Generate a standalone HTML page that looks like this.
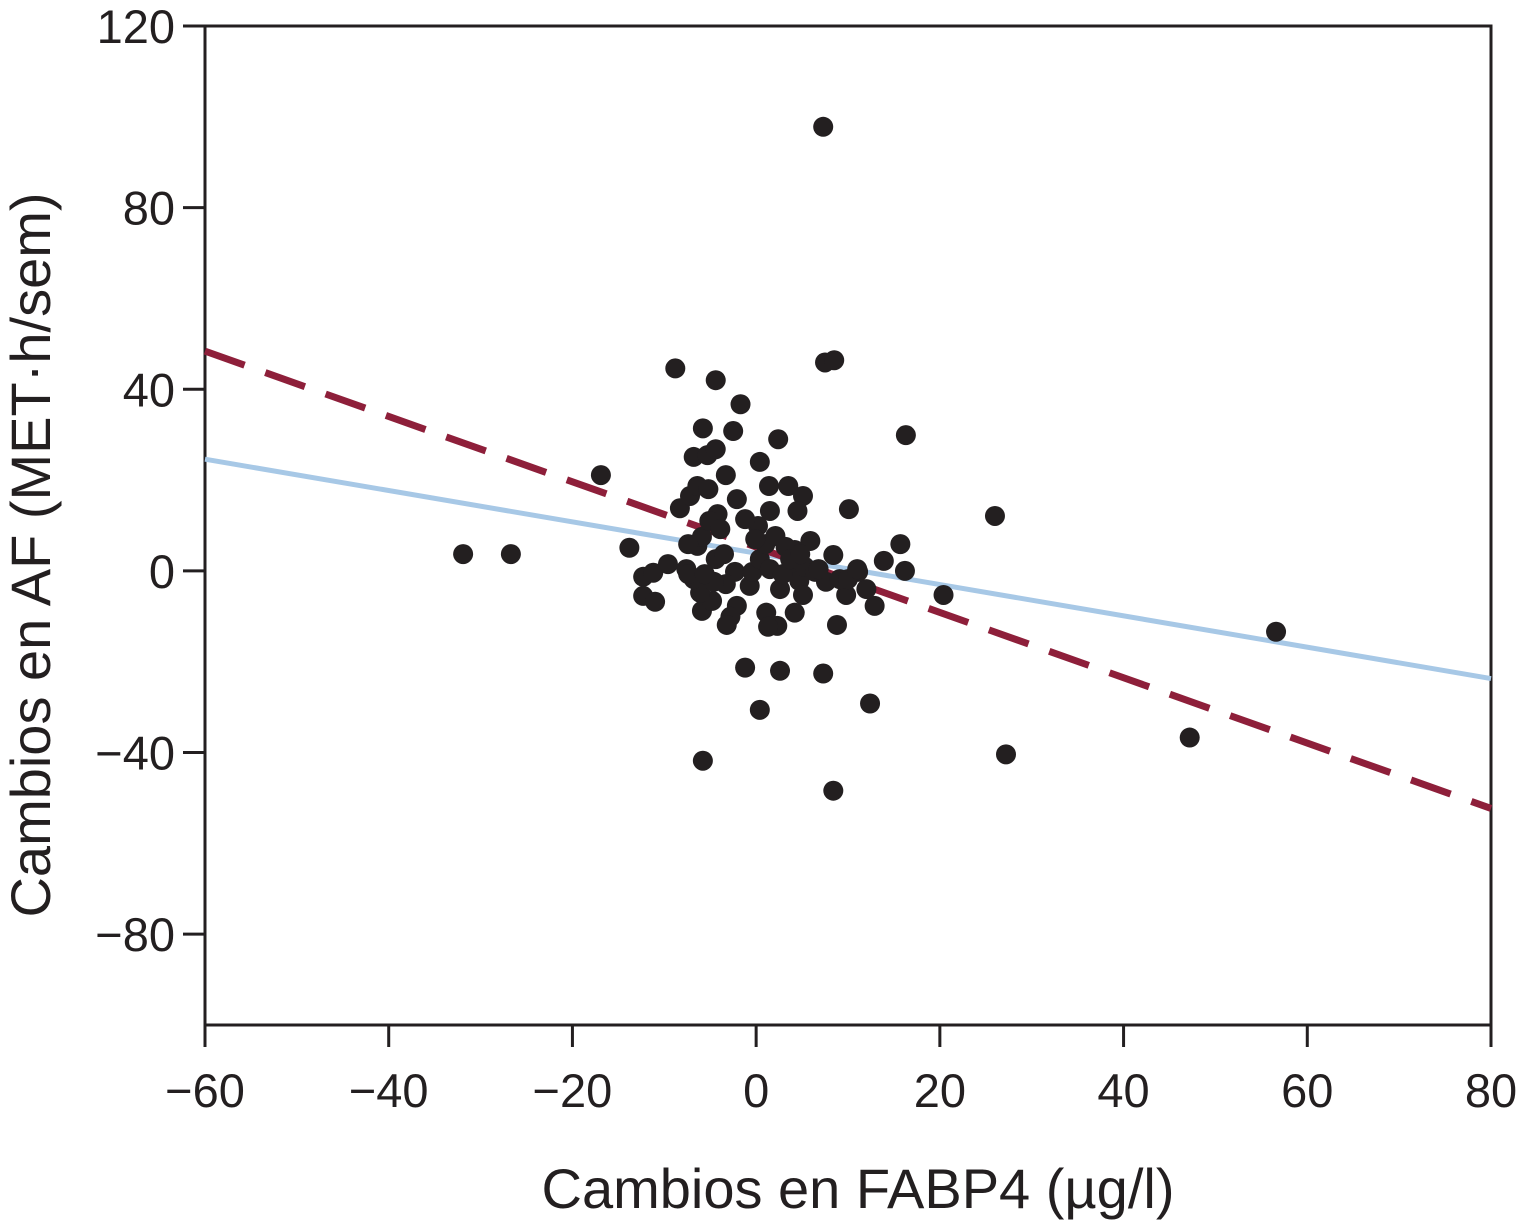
<!DOCTYPE html>
<html><head><meta charset="utf-8"><style>
html,body{margin:0;padding:0;background:#fff;}
svg{display:block;font-family:"Liberation Sans",Arial,sans-serif;}
</style></head><body>
<svg id="chart" width="1516" height="1220" viewBox="0 0 1516 1220">
<g id="grid"></g>
<g id="lines"></g>
<g id="pts"></g>
<text x="858" y="1208" font-size="56" text-anchor="middle" fill="#231f20">Cambios en FABP4 (µg/l)</text>
<text transform="translate(50,555) rotate(-90)" font-size="56" text-anchor="middle" fill="#231f20">Cambios en AF (MET·h/sem)</text>
</svg>
<script>
const xTicks=[-60,-40,-20,0,20,40,60,80];
const yTicks=[120,80,40,0,-40,-80];
const xVals=[-31.9,-26.7,-16.9,-8.8,-4.4,-1.7,-13.8,-12.3,-11.2,-12.3,-11.0,-9.6,-8.3,-7.6,-7.2,-6.8,-5.8,-5.3,-4.4,-6.4,-5.2,-4.2,-3.3,-2.5,-2.1,0.4,2.4,1.4,3.5,5.1,4.5,1.5,0.2,10.1,16.3,26.0,7.3,7.5,8.5,-5.8,-1.2,0.4,2.6,7.3,12.4,8.4,27.2,47.2,56.6,20.4,15.7,16.2,13.9,12.9,12.0,11.1,9.8,8.8,8.4,5.9,4.2,3.7,4.7,2.6,1.1,2.3,1.3,4.2,5.1,-0.7,-2.1,-2.8,-3.2,-5.9,-4.8,-6.1,-6.8,-7.4,-6.4,-5.9,-4.4,-3.5,-2.3,-0.4,0.4,1.0,2.1,3.2,1.5,2.9,5.3,6.4,7.6,9.1,-3.3,-4.6,-5.6,-5.1,-3.9,-7.4,-1.2,-0.1,3.7,4.8,6.8,10.0,11.0];
const yVals=[3.7,3.7,21.1,44.6,42.0,36.7,5.1,-1.3,-0.4,-5.5,-6.8,1.5,13.8,0.4,16.5,25.1,31.4,25.5,26.8,18.7,18.0,12.5,21.1,30.8,15.8,24.0,29.0,18.7,18.7,16.5,13.2,13.2,9.9,13.6,29.9,12.1,97.8,45.9,46.4,-41.8,-21.3,-30.6,-22.0,-22.6,-29.2,-48.4,-40.4,-36.7,-13.4,-5.3,5.9,0,2.2,-7.7,-4.0,-0.2,-5.3,-11.9,3.5,6.6,4.6,0.4,-2.2,-4.0,-9.2,-12.1,-12.3,-9.2,-5.3,-3.3,-7.7,-10.1,-11.9,-8.8,-6.6,-4.8,-1.8,-0.7,5.5,7.5,2.6,3.7,-0.2,-0.2,2.6,5.9,7.7,5.3,0.4,-0.7,0.9,-0.2,-2.4,-1.8,-2.9,-2.4,-0.7,11.0,9.2,5.9,11.4,7.0,2.6,3.7,0.4,-1.8,0.4];
const lineX=[-60,80];
const blueY=[24.6,-23.7];
const redY=[48.4,-52.3];
const NS='http://www.w3.org/2000/svg';
const X0=205,X1=1491,Y0=1025,Y1=26;
const sx=v=>X0+(v+60)/140*(X1-X0);
const sy=v=>Y0-(v+100)/220*(Y0-Y1);
function mk(tag,attrs,parent){const e=document.createElementNS(NS,tag);for(const k in attrs)e.setAttribute(k,attrs[k]);parent.appendChild(e);return e;}
const g=document.getElementById('grid');
const frame=mk('rect',{x:X0,y:Y1,width:X1-X0,height:Y0-Y1,fill:'none',stroke:'#231f20','stroke-width':3},g);


xTicks.forEach(t=>{
 const l=mk('line',{x1:sx(t),x2:sx(t),y1:Y0,y2:Y0+22,stroke:'#231f20','stroke-width':3},g);
 
 
 const tx=mk('text',{x:sx(t),y:1107,'font-size':47,'text-anchor':'middle',fill:'#231f20'},g);
 tx.textContent=(t<0?'\u2212'+(-t):t);
 
 
});
yTicks.forEach(t=>{
 const l=mk('line',{x1:X0-22,x2:X0,y1:sy(t),y2:sy(t),stroke:'#231f20','stroke-width':3},g);
 
 
 const tx=mk('text',{x:175,y:sy(t)+17,'font-size':47,'text-anchor':'end',fill:'#231f20'},g);
 tx.textContent=(t<0?'\u2212'+(-t):t);
 
 
});
const lg=document.getElementById('lines');
const bl=mk('line',{x1:sx(lineX[0]),y1:sy(blueY[0]),x2:sx(lineX[1]),y2:sy(blueY[1]),stroke:'#a7c8e6','stroke-width':5},lg);


const pg=document.getElementById('pts');
xVals.forEach((v,i)=>{
 const c=mk('circle',{cx:sx(v),cy:sy(yVals[i]),r:10,fill:'#231f20'},pg);
 
 
});
const rl=mk('line',{x1:sx(lineX[0]),y1:sy(redY[0]),x2:sx(lineX[1]),y2:sy(redY[1]),stroke:'#8e1f3a','stroke-width':7,'stroke-dasharray':'42,22'},lg);


</script>
</body></html>
